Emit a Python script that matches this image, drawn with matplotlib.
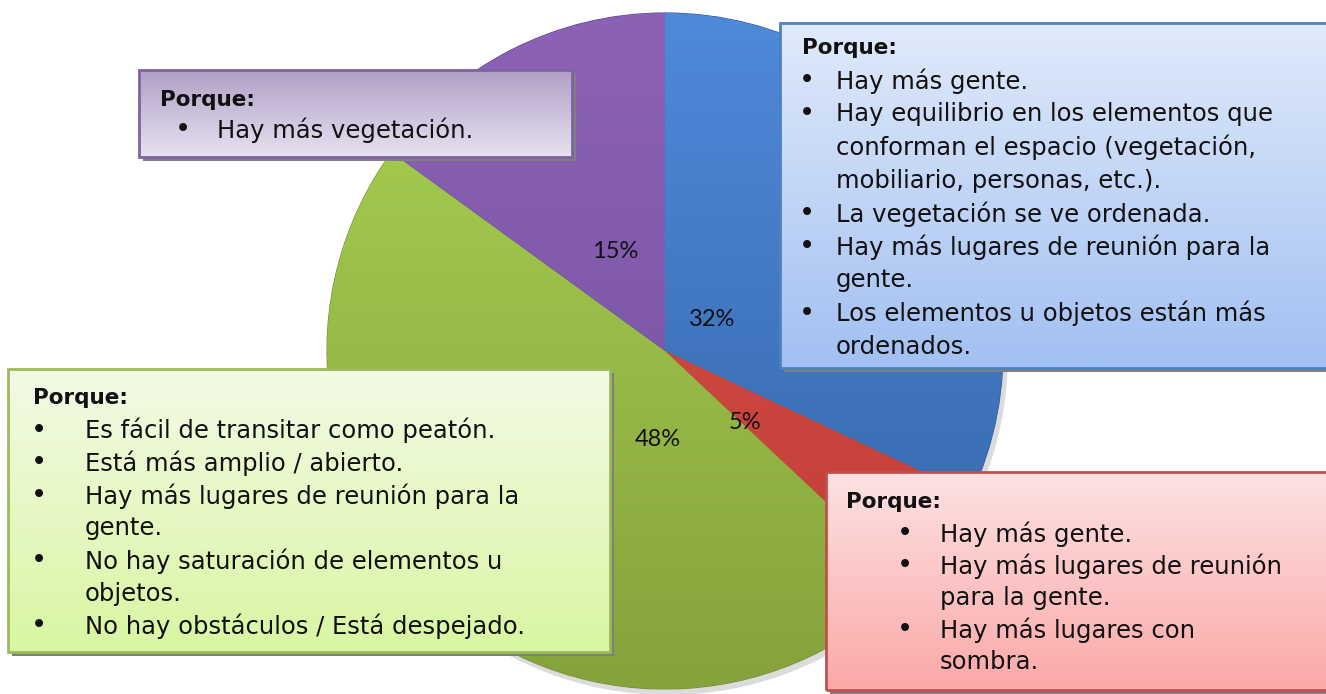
import numpy as np
import matplotlib
matplotlib.use("Agg")
import matplotlib.pyplot as plt
from matplotlib.patches import Rectangle, Circle
from matplotlib.colors import LinearSegmentedColormap

# ==================== data ====================
slice_names = ["Azul", "Rojo", "Verde", "Morado"]
slice_values = [32, 5, 48, 15]
slice_top = ["#4f8ad8", "#dc5047", "#a9d352", "#8c62b6"]
slice_bottom = ["#3262a6", "#bd3d36", "#85a23c", "#72509c"]
slice_edge = ["#2c5590", "#9e332d", "#6f8a33", "#5b3f80"]

header = "Porque:"
purple_lines = [(True, "Hay más vegetación.")]
blue_lines = [(True, "Hay más gente."),
              (True, "Hay equilibrio en los elementos que"),
              (False, "conforman el espacio (vegetación,"),
              (False, "mobiliario, personas, etc.)."),
              (True, "La vegetación se ve ordenada."),
              (True, "Hay más lugares de reunión para la"),
              (False, "gente."),
              (True, "Los elementos u objetos están más"),
              (False, "ordenados.")]
green_lines = [(True, "Es fácil de transitar como peatón."),
               (True, "Está más amplio / abierto."),
               (True, "Hay más lugares de reunión para la"),
               (False, "gente."),
               (True, "No hay saturación de elementos u"),
               (False, "objetos."),
               (True, "No hay obstáculos / Está despejado.")]
red_lines = [(True, "Hay más gente."),
             (True, "Hay más lugares de reunión"),
             (False, "para la gente."),
             (True, "Hay más lugares con"),
             (False, "sombra.")]

W, H = 1326, 694
fig = plt.figure(figsize=(W / 100, H / 100), dpi=100)
ax = fig.add_axes([0, 0, 1, 1])

cx, cy, R = 665, H - 351, 338

# shadow under the pie
ax.add_patch(Circle((cx + 3, cy - 4), R + 2, color="#9a9a9a", alpha=0.35, lw=0, zorder=1))

wedges, _, pcts = ax.pie(slice_values, startangle=90, counterclock=False,
                         center=(cx, cy), radius=R, autopct="%d%%", pctdistance=0.3,
                         wedgeprops=dict(lw=0.8), textprops=dict(fontsize=17, family="Lato"))

yy = np.linspace(1, 0, 256).reshape(-1, 1)
for w, ct, cb, ce in zip(wedges, slice_top, slice_bottom, slice_edge):
    w.set_facecolor(cb)
    w.set_edgecolor(ce)
    w.set_zorder(2)
    cmap = LinearSegmentedColormap.from_list("g", [cb, ct])
    im = ax.imshow(yy, cmap=cmap, extent=(cx - R, cx + R, cy - R, cy + R),
                   aspect="auto", zorder=2.5, origin="upper")
    im.set_clip_path(w)

# label placement (offset from centre, pixels)
pct_offsets = [(47, 32), (80, -71), (-7, -88), (-50, 100)]
for t, (dx, dy) in zip(pcts, pct_offsets):
    t.set_position((cx + dx, cy + dy))
    t.set_zorder(6)
    t.set_color("#111111")

FS = 17.5
HFS = 15.5


def text_box(x0, y0, x1, y1, top, bottom, edge, lines, hx, bx, tx, hy, dy):
    # image-style coordinates (y downwards) converted to axes space
    b0, b1 = H - y1, H - y0
    ax.add_patch(Rectangle((x0 + 4, b0 - 4), x1 - x0, b1 - b0, color="#7f7f7f", lw=0, zorder=7))
    rect = Rectangle((x0, b0), x1 - x0, b1 - b0, facecolor="none", edgecolor=edge, lw=2, zorder=9)
    ax.add_patch(rect)
    cmap = LinearSegmentedColormap.from_list("b", [bottom, top])
    im = ax.imshow(yy, cmap=cmap, extent=(x0, x1, b0, b1), aspect="auto", zorder=8, origin="upper")
    im.set_clip_path(rect)
    ax.text(hx, H - hy, header, fontsize=HFS, fontweight="bold", va="center", ha="left",
            family="DejaVu Sans", color="#111111", zorder=10)
    for i, (bul, s) in enumerate(lines):
        y = H - (hy + (i + 1) * dy)
        if bul:
            ax.text(bx, y, "•", fontsize=FS + 2, va="center", ha="center", color="#111111", zorder=10)
        ax.text(tx, y, s, fontsize=FS, va="center", ha="left", family="DejaVu Sans",
                color="#111111", zorder=10)


text_box(139, 70, 572, 157, "#b1a0c6", "#e6e2f0", "#7f63a1", purple_lines, 160, 183, 217, 100, 30)
text_box(780, 23, 1330, 368, "#e0eafa", "#a2c0f2", "#4f81bd", blue_lines, 802, 807, 836, 48, 33.2)
text_box(8, 369, 610, 652, "#f3fae6", "#d8f6a2", "#9bbb59", green_lines, 33, 39, 85, 398, 32.6)
text_box(826, 472, 1330, 690, "#fde2e2", "#fba8a8", "#c0504d", red_lines, 846, 905, 940, 502, 32)

ax.set_xlim(0, W)
ax.set_ylim(0, H)
ax.set_aspect("auto")
ax.axis("off")

fig.savefig("out.png", dpi=100, facecolor="white")
